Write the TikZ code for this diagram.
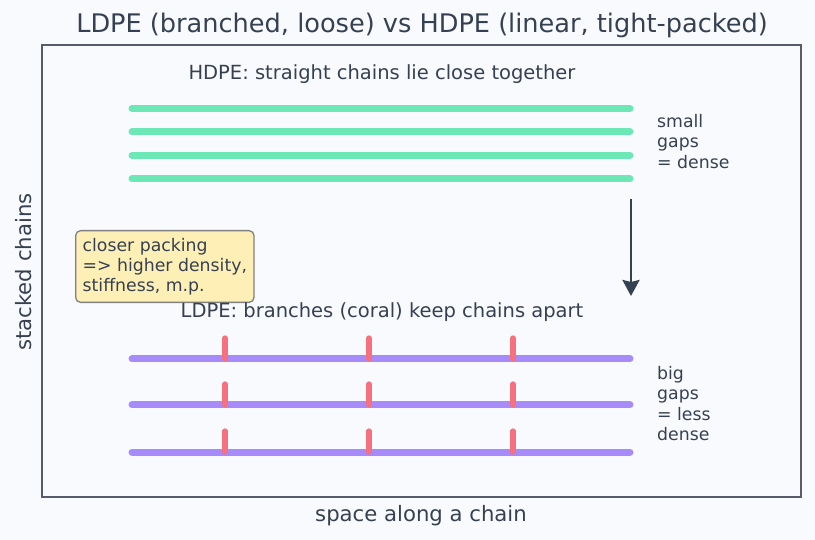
\documentclass[tikz,border=0pt]{standalone}
\usepackage{fontspec}
\setmainfont{DejaVu Sans}
\usepackage{tikz}
\usetikzlibrary{arrows.meta,positioning}
\definecolor{plotbg}{HTML}{F9FAFD}
\definecolor{framegray}{HTML}{575C6B}
\definecolor{inkgray}{HTML}{354152}
\definecolor{chaingreen}{HTML}{6EE7B7}
\definecolor{chainpurple}{HTML}{A78BFA}
\definecolor{branchcoral}{HTML}{F6707F}
\definecolor{noteyellow}{HTML}{FDEFB5}
\definecolor{notegray}{HTML}{808080}
\tikzset{
  hdpechain/.style={line width=7pt,line cap=round,draw=chaingreen},
  ldpechain/.style={line width=7pt,line cap=round,draw=chainpurple},
  branch/.style={line width=5.3pt,line cap=round,draw=branchcoral},
  caption/.style={text=inkgray,inner sep=0pt,font=\fontsize{19.5}{23}\selectfont},
  sidelabel/.style={text=inkgray,inner sep=0pt,align=left,font=\fontsize{17.3}{20.5}\selectfont},
  note/.style={rectangle,rounded corners=5pt,draw=notegray,line width=1.3pt,
    fill=noteyellow,text=inkgray,align=left,inner xsep=7pt,inner ysep=7.5pt,
    font=\fontsize{17.3}{20}\selectfont},
  flow/.style={-{Stealth[length=16pt,width=17pt,inset=2pt]},line width=2.7pt,draw=inkgray}
}
\begin{document}
\begin{tikzpicture}[x=1pt,y=-1pt]
  \path[use as bounding box,fill=plotbg] (0,0) rectangle (815,540);
  \draw[framegray,line width=1.7pt] (42,45) rectangle (801,497);
  \node[text=inkgray,inner sep=0pt,anchor=base,font=\fontsize{25.6}{30}\selectfont] (title) at (422,33)
    {LDPE (branched, loose) vs HDPE (linear, tight-packed)};
  \node[text=inkgray,inner sep=0pt,anchor=base,font=\fontsize{21.2}{25}\selectfont] (xlabel) at (421,521)
    {space along a chain};
  \node[text=inkgray,inner sep=0pt,anchor=base,rotate=90,font=\fontsize{21.2}{25}\selectfont] (ylabel) at (31,272)
    {stacked chains};
  % HDPE: straight chains
  \node[caption,anchor=base] (hdpetext) at (382,80) {HDPE: straight chains lie close together};
  \draw[hdpechain] (132,108.5) -- (630,108.5);
  \draw[hdpechain] (132,132) -- (630,132);
  \draw[hdpechain] (132,155.5) -- (630,155.5);
  \draw[hdpechain] (132,179) -- (630,179);
  \node[sidelabel,anchor=north west] (smallgaps) at (657,114) {small\\gaps\\= dense};
  % arrow down
  \coordinate (arrowtop) at (631,199);
  \coordinate (arrowend) at (631,296);
  \draw[flow] (arrowtop) -- (arrowend);
  \node[note,anchor=north west] (packing) at (75,230)
    {closer packing\\=> higher density,\\stiffness, m.p.};
  % LDPE: branched chains
  \node[caption,anchor=base] (ldpetext) at (382,318) {LDPE: branches (coral) keep chains apart};
  \draw[ldpechain] (132,359) -- (630,359);
  \draw[ldpechain] (132,405) -- (630,405);
  \draw[ldpechain] (132,452) -- (630,452);
  \draw[branch] (225,338) -- (225,359);
  \draw[branch] (369,338) -- (369,359);
  \draw[branch] (513,338) -- (513,359);
  \draw[branch] (225,384) -- (225,405);
  \draw[branch] (369,384) -- (369,405);
  \draw[branch] (513,384) -- (513,405);
  \draw[branch] (225,431) -- (225,452);
  \draw[branch] (369,431) -- (369,452);
  \draw[branch] (513,431) -- (513,452);
  \node[sidelabel,anchor=north west] (biggaps) at (657,366) {big\\gaps\\= less\\dense};
\end{tikzpicture}
\end{document}
